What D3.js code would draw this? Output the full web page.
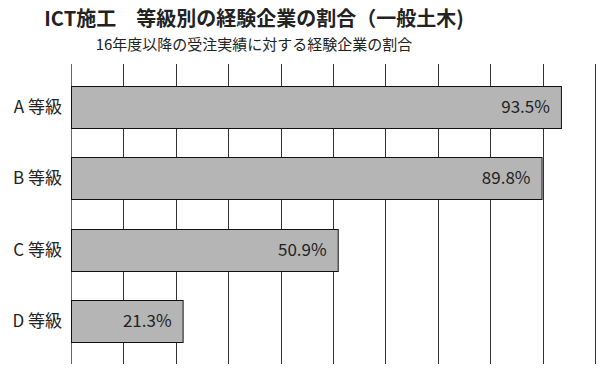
<!DOCTYPE html>
<html>
<head>
<meta charset="utf-8">
<script src="https://cdn.jsdelivr.net/npm/d3@7"></script>
<style>
  body { margin: 0; background: #fff; }
  text { font-family: "Noto Sans CJK JP", "Noto Sans", sans-serif; }
</style>
</head>
<body>
<div id="chart"></div>
<script>
// Data
var grades = ['A 等級', 'B 等級', 'C 等級', 'D 等級'];
var rates = [93.5, 89.8, 50.9, 21.3];
var xTicks = [0, 10, 20, 30, 40, 50, 60, 70, 80, 90, 100];

var width = 600;
var height = 370;

var svg = d3.select('#chart').append('svg')
  .attr('width', width)
  .attr('height', height);

// Scales
var x = d3.scaleLinear()
  .domain([0, 100])
  .range([71, 595]);

var y = d3.scaleBand()
  .domain(grades)
  .range([71, 357])
  .paddingInner(0.41)
  .paddingOuter(0.205);

// ********** GRID **********
svg.selectAll('.grid')
  .data(xTicks)
  .join('line')
  .attr('class', 'grid')
  .attr('x1', d => Math.round(x(d)) + 0.5)
  .attr('x2', d => Math.round(x(d)) + 0.5)
  .attr('y1', 64)
  .attr('y2', 364)
  .attr('stroke', d => d == 0 ? '#666' : '#333')
  .attr('stroke-width', 1);

// ********** BARS **********
svg.selectAll('.bar')
  .data(rates)
  .join('rect')
  .attr('class', 'bar')
  .attr('x', x(0) + 0.5)
  .attr('y', (d, i) => Math.round(y(grades[i])) + 0.5)
  .attr('width', d => x(d) - x(0))
  .attr('height', Math.round(y.bandwidth()))
  .attr('fill', '#b5b5b5')
  .attr('stroke', '#111')
  .attr('stroke-width', 1);

// value labels, inside the bar end
svg.selectAll('.val')
  .data(rates)
  .join('text')
  .attr('class', 'val')
  .attr('x', d => x(d) - 11)
  .attr('y', (d, i) => y(grades[i]) + y.bandwidth() / 2)
  .attr('dy', '0.36em')
  .attr('text-anchor', 'end')
  .attr('font-size', 17)
  .attr('fill', '#222')
  .text(d => d.toFixed(1) + '%');

// category labels
svg.selectAll('.cat')
  .data(grades)
  .join('text')
  .attr('class', 'cat')
  .attr('x', 62)
  .attr('y', d => y(d) + y.bandwidth() / 2)
  .attr('dy', '0.36em')
  .attr('text-anchor', 'end')
  .attr('font-size', 17)
  .attr('fill', '#222')
  .text(d => d);

// ********** TITLES **********
svg.append('text')
  .attr('x', 254)
  .attr('y', 26)
  .attr('text-anchor', 'middle')
  .attr('font-size', 20)
  .attr('font-weight', 'bold')
  .attr('fill', '#222')
  .text('ICT施工　等級別の経験企業の割合（一般土木)');

svg.append('text')
  .attr('x', 254)
  .attr('y', 50)
  .attr('text-anchor', 'middle')
  .attr('font-size', 15)
  .attr('fill', '#222')
  .text('16年度以降の受注実績に対する経験企業の割合');
</script>
</body>
</html>
